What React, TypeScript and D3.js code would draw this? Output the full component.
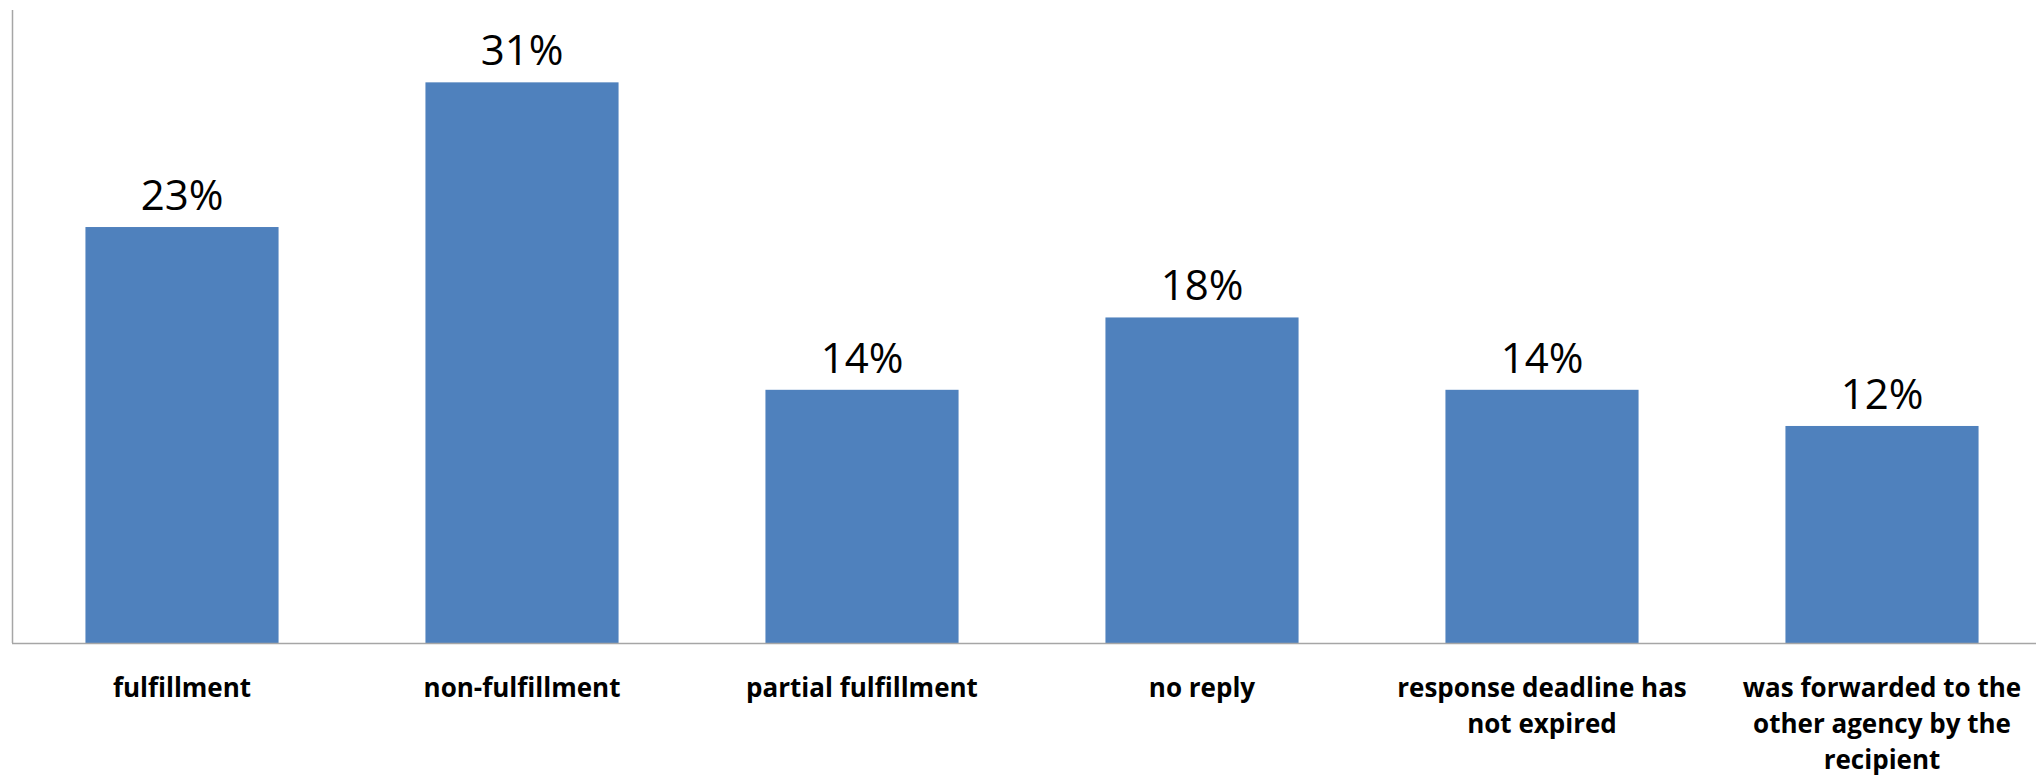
import React, { useEffect, useRef } from "react";
import * as d3 from "d3";

const categories: string[] = [
  "fulfillment",
  "non-fulfillment",
  "partial fulfillment",
  "no reply",
  "response deadline has not expired",
  "was forwarded to the other agency by the recipient",
];
const shares: number[] = [0.23, 0.31, 0.14, 0.18, 0.14, 0.12];

const W = 2036;
const H = 780;
const plot = { left: 12, right: 2052, top: 10, bottom: 643 };
const barColor = "#4F81BD";
const axisColor = "#A6A6A6";

export default function App() {
  const ref = useRef<SVGSVGElement | null>(null);

  useEffect(() => {
    const svg = d3.select(ref.current);
    svg.selectAll("*").remove();

    const x = d3
      .scaleBand<string>()
      .domain(categories)
      .range([plot.left, plot.right])
      .paddingInner(0.432)
      .paddingOuter(0.216);
    const y = d3.scaleLinear().domain([0, 0.35]).range([plot.bottom, plot.top]);

    const data = categories.map((c, i) => ({ c, v: shares[i] }));

    // bars
    svg
      .append("g")
      .selectAll("rect")
      .data(data)
      .join("rect")
      .attr("x", (d) => x(d.c)!)
      .attr("y", (d) => y(d.v))
      .attr("width", x.bandwidth())
      .attr("height", (d) => y(0) - y(d.v))
      .attr("fill", barColor);

    // axes lines
    svg
      .append("line")
      .attr("x1", plot.left + 0.5)
      .attr("x2", plot.left + 0.5)
      .attr("y1", plot.top)
      .attr("y2", plot.bottom)
      .attr("stroke", axisColor)
      .attr("stroke-width", 1.5);
    svg
      .append("line")
      .attr("x1", plot.left)
      .attr("x2", W)
      .attr("y1", plot.bottom + 0.5)
      .attr("y2", plot.bottom + 0.5)
      .attr("stroke", axisColor)
      .attr("stroke-width", 1.5);

    // value labels
    svg
      .append("g")
      .selectAll("text")
      .data(data)
      .join("text")
      .attr("x", (d) => x(d.c)! + x.bandwidth() / 2)
      .attr("y", (d) => y(d.v) - 17)
      .attr("text-anchor", "middle")
      .attr("font-family", "'Open Sans', sans-serif")
      .attr("font-size", 42)
      .attr("fill", "#000")
      .text((d) => `${Math.round(d.v * 100)}%`);

    // category labels, word-wrapped within the band
    const maxWidth = 310;
    const lineHeight = 36;
    const catG = svg.append("g");
    data.forEach((d) => {
      const cx = x(d.c)! + x.bandwidth() / 2;
      const t = catG
        .append("text")
        .attr("text-anchor", "middle")
        .attr("font-family", "'Open Sans', sans-serif")
        .attr("font-weight", "bold")
        .attr("font-size", 26)
        .attr("fill", "#000");
      const words = d.c.split(" ");
      let line: string[] = [];
      let lineNo = 0;
      let tspan = t.append("tspan").attr("x", cx).attr("y", 697);
      words.forEach((w) => {
        line.push(w);
        tspan.text(line.join(" "));
        const len = (tspan.node() as SVGTSpanElement).getComputedTextLength();
        if (len > maxWidth && line.length > 1) {
          line.pop();
          tspan.text(line.join(" "));
          line = [w];
          lineNo += 1;
          tspan = t
            .append("tspan")
            .attr("x", cx)
            .attr("y", 697 + lineNo * lineHeight)
            .text(w);
        }
      });
    });
  }, []);

  return (
    <svg
      ref={ref}
      width={W}
      height={H}
      style={{ position: "absolute", left: 0, top: 0, background: "#fff" }}
    />
  );
}
